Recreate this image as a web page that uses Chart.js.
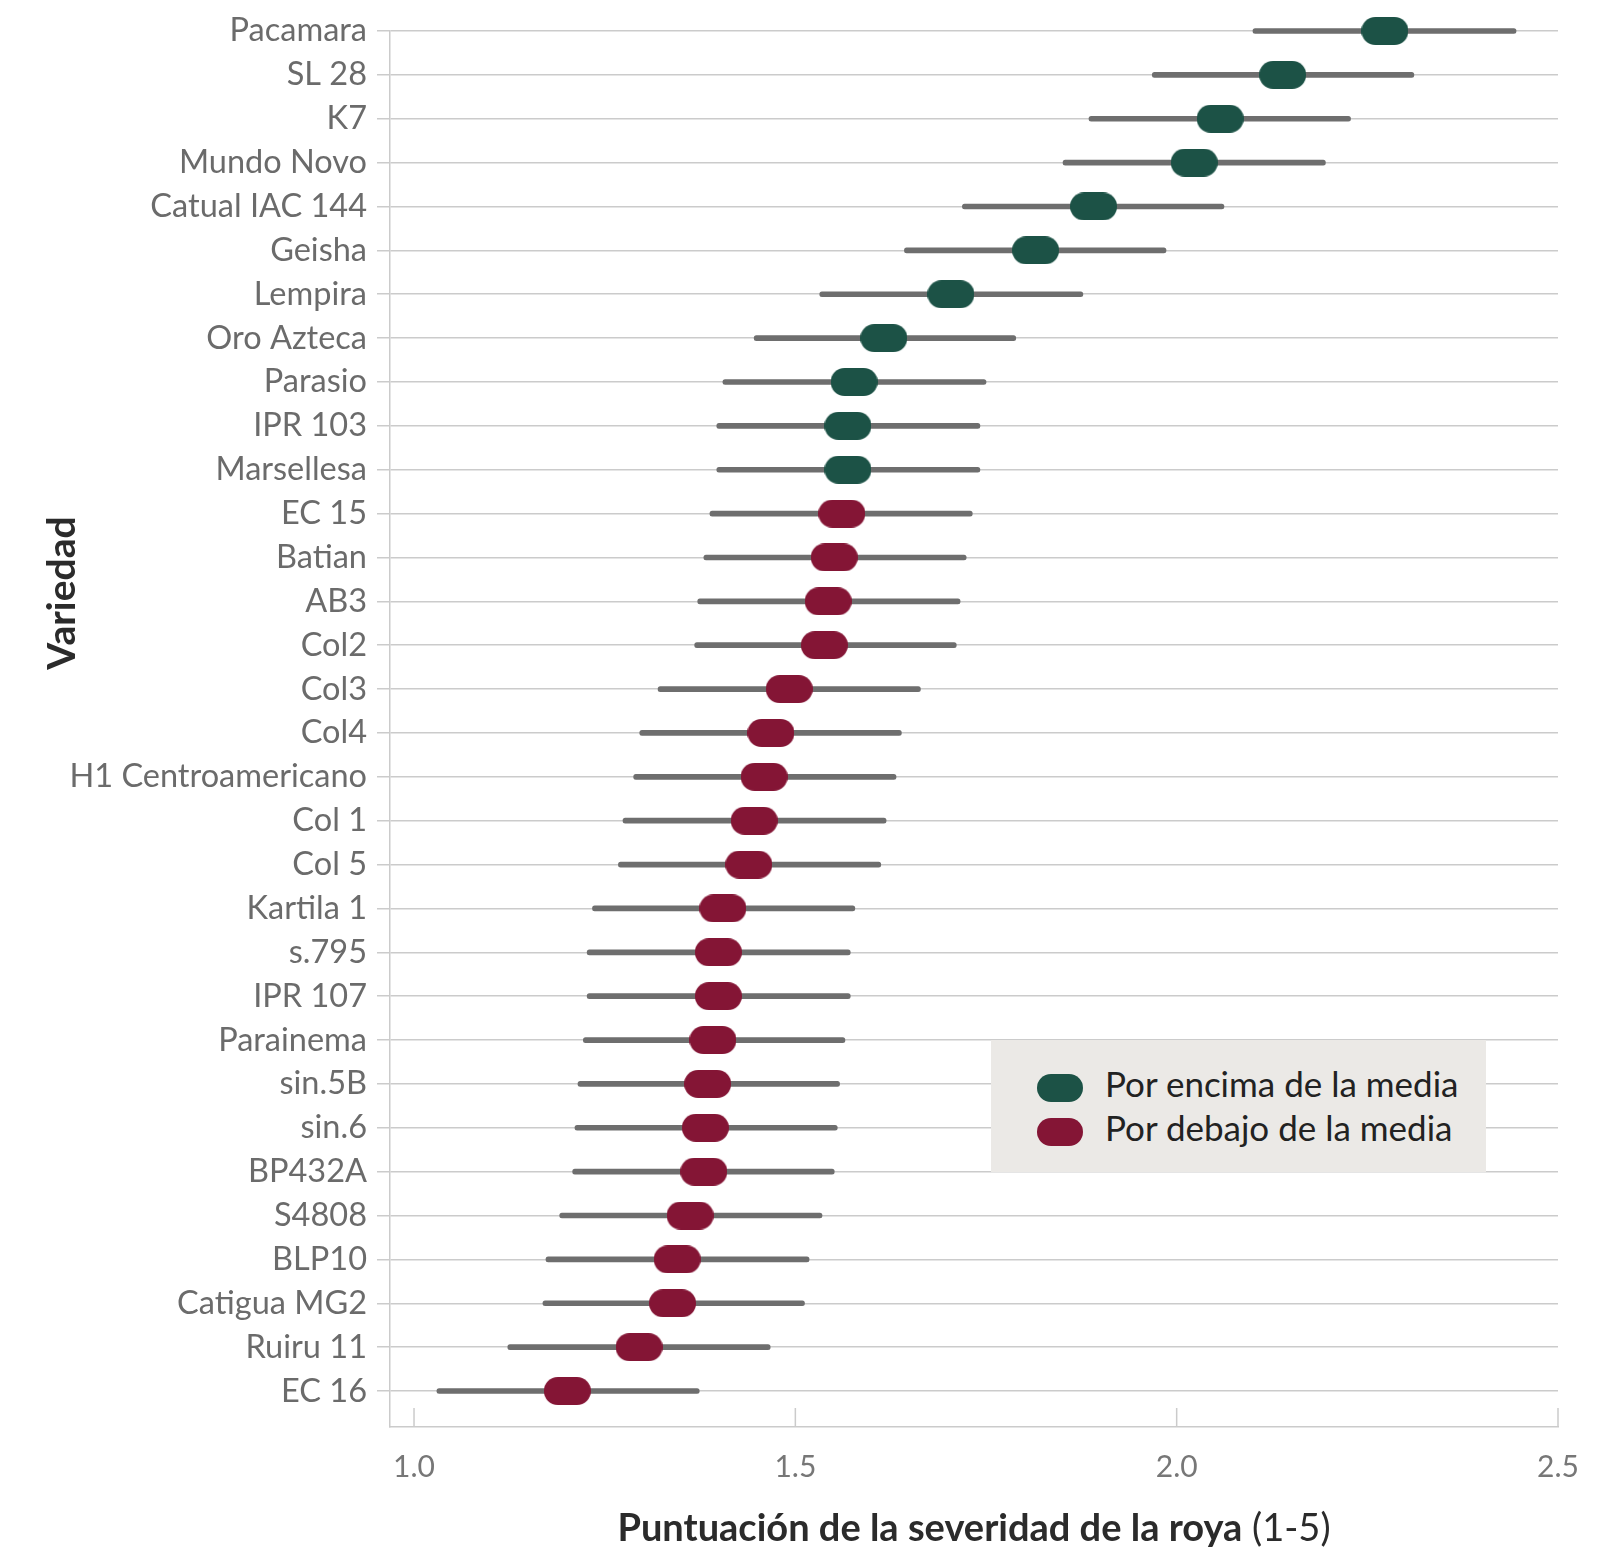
<!DOCTYPE html>
<html>
<head>
<meta charset="utf-8">
<script src="https://cdn.jsdelivr.net/npm/chart.js@4"></script>
<style>
  body { margin: 0; background: #fff; }
  #wrap { position: relative; width: 1615px; height: 1553px; }
  #leyenda {
    position: absolute; left: 991px; top: 1040px; width: 495px; height: 132px;
    background: #ebe9e6; font-family: Lato, sans-serif; font-size: 35px; color: #222;
  }
  .item { position: absolute; left: 46px; height: 30px; line-height: 30px; white-space: nowrap; }
  .item span { display: inline-block; width: 46px; height: 28px; border-radius: 14px; vertical-align: middle; margin-right: 22px; }
</style>
</head>
<body>
<div id="wrap">
  <canvas id="grafico" width="1615" height="1553"></canvas>
  <div id="leyenda">
    <div class="item" style="top:28px"><span style="background:#1c5246"></span>Por encima de la media</div>
    <div class="item" style="top:72px"><span style="background:#841535"></span>Por debajo de la media</div>
  </div>
</div>
<script>
const variedades = [
  'Pacamara', 'SL 28', 'K7', 'Mundo Novo', 'Catual IAC 144', 'Geisha', 'Lempira', 'Oro Azteca',
  'Parasio', 'IPR 103', 'Marsellesa', 'EC 15', 'Batian', 'AB3', 'Col2', 'Col3', 'Col4',
  'H1 Centroamericano', 'Col 1', 'Col 5', 'Kartila 1', 's.795', 'IPR 107', 'Parainema',
  'sin.5B', 'sin.6', 'BP432A', 'S4808', 'BLP10', 'Catigua MG2', 'Ruiru 11', 'EC 16'
];
const media = [
  2.273, 2.139, 2.057, 2.023, 1.891, 1.815, 1.704, 1.616,
  1.577, 1.569, 1.569, 1.561, 1.551, 1.543, 1.538, 1.492, 1.468,
  1.459, 1.446, 1.439, 1.405, 1.399, 1.399, 1.392,
  1.385, 1.382, 1.380, 1.362, 1.345, 1.339, 1.295, 1.201
];
const limInf = [
  2.100, 1.968, 1.885, 1.851, 1.719, 1.643, 1.532, 1.446,
  1.405, 1.397, 1.397, 1.388, 1.380, 1.372, 1.368, 1.320, 1.296,
  1.288, 1.274, 1.268, 1.234, 1.227, 1.227, 1.222,
  1.215, 1.211, 1.208, 1.191, 1.173, 1.169, 1.123, 1.030
];
const limSup = [
  2.445, 2.311, 2.228, 2.195, 2.062, 1.986, 1.877, 1.789,
  1.750, 1.742, 1.742, 1.732, 1.724, 1.716, 1.711, 1.664, 1.639,
  1.632, 1.619, 1.612, 1.578, 1.572, 1.572, 1.565,
  1.558, 1.555, 1.551, 1.535, 1.518, 1.512, 1.467, 1.374
];
// 1 = por encima de la media, 0 = por debajo
const grupo = [1,1,1,1,1,1,1,1,1,1,1,0,0,0,0,0,0,0,0,0,0,0,0,0,0,0,0,0,0,0,0,0];
const ticksX = [1.0, 1.5, 2.0, 2.5];

const VERDE = '#1c5246';
const ROJO = '#841535';
const GRIS_LINEA = '#cbcbcb';
const FUENTE = 'Lato, sans-serif';

function pastilla(color) {
  const c = document.createElement('canvas');
  c.width = 47; c.height = 28;
  const g = c.getContext('2d');
  g.fillStyle = color;
  g.beginPath();
  g.roundRect(0, 0, 47, 28, 14);
  g.fill();
  return c;
}

const puntosArriba = [], puntosAbajo = [], barras = [];
variedades.forEach((v, i) => {
  barras.push({ y: i, x: [limInf[i], limSup[i]] });
  (grupo[i] ? puntosArriba : puntosAbajo).push({ x: media[i], y: i });
});

const titulos = {
  id: 'titulos',
  afterDraw(chart) {
    const { ctx, chartArea, scales } = chart;
    ctx.save();
    // ticks del eje x hacia dentro
    ctx.strokeStyle = GRIS_LINEA;
    ctx.lineWidth = 1.5;
    ticksX.forEach(t => {
      const x = scales.x.getPixelForValue(t);
      ctx.beginPath();
      ctx.moveTo(x, chartArea.bottom);
      ctx.lineTo(x, chartArea.bottom - 19);
      ctx.stroke();
    });
    // titulo eje x: parte en negrita + (1-5)
    const negrita = 'Puntuación de la severidad de la roya';
    const normal = ' (1-5)';
    ctx.fillStyle = '#2b2b2b';
    ctx.textBaseline = 'middle';
    ctx.font = 'bold 38px ' + FUENTE;
    const w1 = ctx.measureText(negrita).width;
    ctx.font = '38px ' + FUENTE;
    const w2 = ctx.measureText(normal).width;
    let x0 = (chartArea.left + chartArea.right) / 2 - (w1 + w2) / 2;
    ctx.textAlign = 'left';
    ctx.font = 'bold 38px ' + FUENTE;
    ctx.fillText(negrita, x0, 1529);
    ctx.font = '38px ' + FUENTE;
    ctx.fillText(normal, x0 + w1, 1529);
    // titulo eje y
    ctx.translate(62, 593);
    ctx.rotate(-Math.PI / 2);
    ctx.textAlign = 'center';
    ctx.font = 'bold 39px ' + FUENTE;
    ctx.fillText('Variedad', 0, 0);
    ctx.restore();
  }
};

new Chart(document.getElementById('grafico'), {
  type: 'bar',
  data: {
    datasets: [
      {
        type: 'bar',
        label: 'Intervalo',
        data: barras,
        backgroundColor: '#6e6e6e',
        barThickness: 5,
        borderRadius: 3,
        borderSkipped: false,
        clip: false,
        order: 2
      },
      {
        type: 'scatter',
        label: 'Por encima de la media',
        data: puntosArriba,
        pointStyle: pastilla(VERDE),
        clip: false,
        order: 1
      },
      {
        type: 'scatter',
        label: 'Por debajo de la media',
        data: puntosAbajo,
        pointStyle: pastilla(ROJO),
        clip: false,
        order: 1
      }
    ]
  },
  options: {
    indexAxis: 'y',
    responsive: false,
    animation: false,
    devicePixelRatio: 1,
    layout: { padding: { top: 31, left: 0, right: 57, bottom: 0 } },
    plugins: { legend: { display: false }, tooltip: { enabled: false } },
    scales: {
      x: {
        type: 'linear',
        min: 0.9685,
        max: 2.5,
        afterBuildTicks: s => { s.ticks = ticksX.map(v => ({ value: v })); },
        afterFit: s => { s.height = 126; },
        grid: { drawOnChartArea: false, drawTicks: false },
        border: { color: GRIS_LINEA, width: 1.5 },
        ticks: {
          padding: 22,
          color: '#777',
          font: { family: FUENTE, size: 30 },
          callback: v => v.toFixed(1)
        }
      },
      y: {
        type: 'linear',
        reverse: true,
        offset: false,
        min: 0,
        max: 31.82,
        afterBuildTicks: s => { s.ticks = variedades.map((v, i) => ({ value: i })); },
        afterFit: s => { s.width = 390; },
        grid: { color: GRIS_LINEA, lineWidth: 1.5, tickLength: 13, offset: false },
        border: { color: GRIS_LINEA, width: 1.5 },
        ticks: {
          padding: 10,
          color: '#6b6b6b',
          font: { family: FUENTE, size: 32.5 },
          callback: v => variedades[v]
        }
      }
    }
  },
  plugins: [titulos]
});
</script>
</body>
</html>
